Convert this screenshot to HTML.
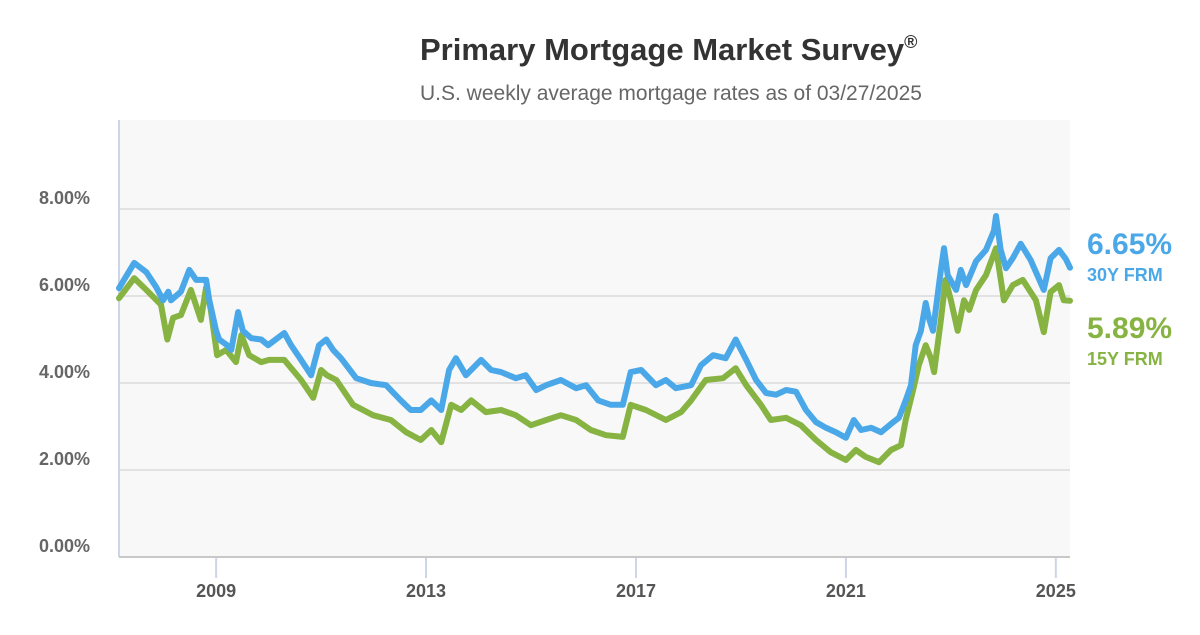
<!DOCTYPE html>
<html><head><meta charset="utf-8"><style>
body{margin:0;background:#fff;font-family:"Liberation Sans",sans-serif}
</style></head><body>
<svg width="1200" height="630" viewBox="0 0 1200 630">
<text x="420" y="60" font-size="31" font-weight="bold" fill="#333">Primary Mortgage Market Survey<tspan font-size="18" dy="-12">®</tspan></text>
<text x="420" y="100" font-size="21" fill="#666">U.S. weekly average mortgage rates as of 03/27/2025</text>
<rect x="119" y="120" width="951" height="437" fill="#f8f8f8"/>
<g id="grid"></g>
<line x1="119" y1="120" x2="119" y2="557" stroke="#cdd6e8" stroke-width="2"/>
<line x1="119" y1="557" x2="1070" y2="557" stroke="#c8c8c8" stroke-width="2"/>
<g id="xticks"></g>
<g id="series"></g>
<text x="1087" y="254" font-size="30" font-weight="bold" fill="#4ba8e8">6.65%</text>
<text x="1087" y="281" font-size="18" font-weight="bold" fill="#4ba8e8">30Y FRM</text>
<text x="1087" y="338" font-size="30" font-weight="bold" fill="#86b341">5.89%</text>
<text x="1087" y="365" font-size="18" font-weight="bold" fill="#86b341">15Y FRM</text>
</svg>
<script>
const yTicks=[0,2,4,6,8];
const yTickLabels=["0.00%","2.00%","4.00%","6.00%","8.00%"];
const xTicks=[2009,2013,2017,2021,2025];
const dates30=[2007.15,2007.44,2007.67,2007.86,2007.99,2008.09,2008.14,2008.33,2008.49,2008.62,2008.81,2008.87,2009.0,2009.06,2009.21,2009.29,2009.42,2009.51,2009.67,2009.86,2009.99,2010.3,2010.43,2010.62,2010.81,2010.96,2011.1,2011.23,2011.38,2011.67,2011.95,2012.24,2012.52,2012.71,2012.9,2013.1,2013.29,2013.44,2013.57,2013.76,2014.05,2014.24,2014.43,2014.71,2014.9,2015.1,2015.29,2015.57,2015.86,2016.05,2016.28,2016.52,2016.75,2016.9,2017.1,2017.38,2017.57,2017.76,2018.05,2018.24,2018.47,2018.71,2018.9,2019.1,2019.29,2019.48,2019.67,2019.86,2020.05,2020.24,2020.43,2020.62,2020.81,2021.0,2021.15,2021.29,2021.48,2021.67,2021.86,2022.01,2022.14,2022.24,2022.33,2022.43,2022.52,2022.58,2022.66,2022.81,2022.87,2022.94,2023.1,2023.19,2023.29,2023.48,2023.67,2023.82,2023.86,2023.95,2024.05,2024.18,2024.33,2024.52,2024.77,2024.9,2025.06,2025.19,2025.27];
const rates30=[6.18,6.76,6.55,6.2,5.9,6.1,5.9,6.1,6.6,6.37,6.37,5.9,5.2,5.0,4.87,4.76,5.63,5.2,5.03,5.0,4.87,5.15,4.87,4.53,4.18,4.87,5.0,4.76,4.57,4.11,4.0,3.95,3.6,3.38,3.38,3.6,3.38,4.3,4.57,4.18,4.53,4.3,4.25,4.11,4.18,3.84,3.95,4.07,3.88,3.95,3.6,3.5,3.5,4.25,4.3,3.95,4.07,3.88,3.95,4.41,4.64,4.57,5.0,4.53,4.07,3.77,3.73,3.84,3.8,3.38,3.1,2.97,2.87,2.74,3.15,2.92,2.97,2.87,3.06,3.2,3.6,3.95,4.87,5.2,5.84,5.5,5.2,6.6,7.1,6.48,6.14,6.6,6.25,6.8,7.06,7.5,7.84,7.06,6.64,6.87,7.2,6.83,6.14,6.87,7.06,6.85,6.65];
const dates15=[2007.15,2007.44,2007.67,2007.95,2008.07,2008.18,2008.33,2008.52,2008.71,2008.81,2008.9,2009.02,2009.19,2009.38,2009.48,2009.63,2009.86,2010.01,2010.3,2010.62,2010.85,2011.0,2011.11,2011.29,2011.61,2011.99,2012.33,2012.62,2012.9,2013.1,2013.29,2013.48,2013.67,2013.86,2014.14,2014.43,2014.71,2015.0,2015.29,2015.57,2015.86,2016.14,2016.43,2016.75,2016.9,2017.19,2017.57,2017.86,2018.05,2018.33,2018.66,2018.9,2019.1,2019.38,2019.57,2019.86,2020.14,2020.43,2020.71,2021.0,2021.19,2021.38,2021.63,2021.86,2022.05,2022.14,2022.28,2022.39,2022.52,2022.62,2022.68,2022.81,2022.9,2023.0,2023.13,2023.25,2023.35,2023.48,2023.67,2023.86,2024.01,2024.18,2024.37,2024.62,2024.77,2024.9,2025.06,2025.15,2025.27];
const rates15=[5.95,6.41,6.14,5.8,5.0,5.5,5.56,6.14,5.45,6.2,5.68,4.64,4.76,4.48,5.1,4.64,4.48,4.53,4.53,4.07,3.66,4.3,4.18,4.07,3.5,3.26,3.15,2.87,2.69,2.92,2.64,3.5,3.38,3.6,3.33,3.38,3.26,3.03,3.15,3.26,3.15,2.92,2.8,2.76,3.5,3.38,3.15,3.33,3.6,4.07,4.11,4.34,3.95,3.5,3.15,3.2,3.03,2.69,2.41,2.23,2.46,2.3,2.18,2.46,2.57,3.15,3.84,4.41,4.87,4.57,4.25,5.45,6.37,5.9,5.2,5.9,5.68,6.14,6.48,7.1,5.9,6.25,6.37,5.9,5.17,6.09,6.25,5.9,5.89];

const NS="http://www.w3.org/2000/svg";
const X0=2007.15,X1=2025.27,PX0=119,PX1=1070,PY0=557,PPU=43.5;
const xs=d=>PX0+(d-X0)/(X1-X0)*(PX1-PX0);
const ys=v=>PY0-v*PPU;
function mk(tag,attrs,parent){const e=document.createElementNS(NS,tag);for(const k in attrs)e.setAttribute(k,attrs[k]);parent.appendChild(e);return e;}
const grid=document.getElementById('grid');
yTicks.forEach((t,i)=>{
  if(t>0){const l=mk('line',{x1:PX0,x2:PX1,y1:ys(t),y2:ys(t),stroke:'#e2e2e2','stroke-width':2},grid);
  
  }
  const tx=mk('text',{x:90,y:ys(t)-5,'text-anchor':'end','font-size':18,'font-weight':'bold',fill:'#666'},grid);
  tx.textContent=yTickLabels[i];
  
  
});
const xt=document.getElementById('xticks');
xTicks.forEach(t=>{
  const l=mk('line',{x1:xs(t),x2:xs(t),y1:558,y2:578,stroke:'#cdd6e8','stroke-width':2},xt);
  
  
  const tx=mk('text',{x:xs(t),y:597,'text-anchor':'middle','font-size':18,'font-weight':'bold',fill:'#555'},xt);
  tx.textContent=t;
  
  
});
const sg=document.getElementById('series');
function line(d,v,c,name){
  const p=d.map((x,i)=>(i?'L':'M')+xs(x).toFixed(1)+','+ys(v[i]).toFixed(1)).join('');
  const e=mk('path',{d:p,fill:'none',stroke:c,'stroke-width':6,'stroke-linejoin':'round','stroke-linecap':'round'},sg);
  
  
}
line(dates15,rates15,'#86b341','line-15y-frm');
line(dates30,rates30,'#4ba8e8','line-30y-frm');
</script>
</body></html>
